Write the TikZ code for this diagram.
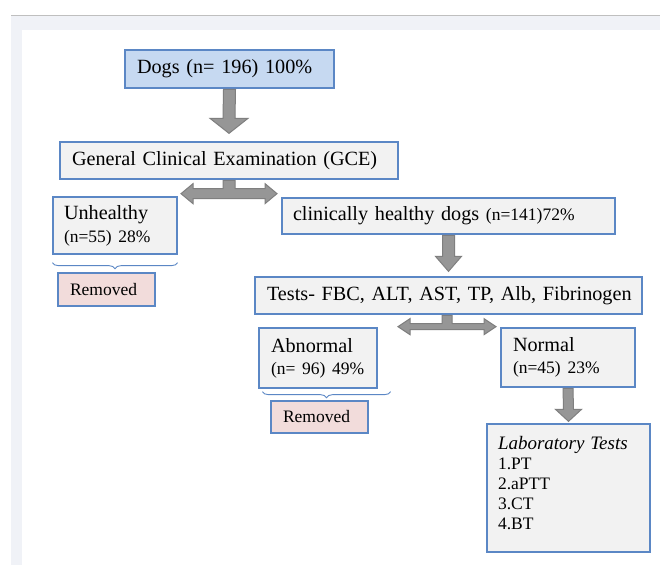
\documentclass[tikz,border=0pt]{standalone}
\usepackage{fontspec}
\setmainfont{Liberation Serif}
\usetikzlibrary{calc,decorations.pathreplacing}
\definecolor{bord}{HTML}{5B87C5}
\definecolor{bluefill}{HTML}{C6D9F1}
\definecolor{greyfill}{HTML}{F2F2F2}
\definecolor{pinkfill}{HTML}{F2DCDB}
\definecolor{arrfill}{HTML}{969696}
\definecolor{arrline}{HTML}{7F7F7F}
\definecolor{pagegrey}{HTML}{F0F2F7}
\definecolor{pageline}{HTML}{BFBFBF}
\newcommand\mainf{\fontsize{20.2}{23}\selectfont}
\newcommand\smallf{\fontsize{17.5}{22}\selectfont}
\newcommand\labf{\fontsize{17.5}{20}\selectfont}
% vertical block arrow: #1 top, #2 tip, #3 shaft half, #4 head half, #5 head length
\newcommand\vblock[5]{%
  \filldraw[blockarrow] ($(#1)+(-#3,0)$) -- ($(#2)+(-#3,-#5)$) -- ($(#2)+(-#4,-#5)$) -- (#2)
    -- ($(#2)+(#4,-#5)$) -- ($(#2)+(#3,-#5)$) -- ($(#1)+(#3,0)$) -- cycle;}
% T-shaped double block arrow: #1 stem top, #2 centre, #3 stem half, #4 bar half,
% #5 half length, #6 head half, #7 head length
\newcommand\hblock[7]{%
  \filldraw[blockarrow] ($(#1)+(-#3,0)$) -- ($(#2)+(-#3,-#4)$) -- ($(#2)+(-#5+#7,-#4)$)
    -- ($(#2)+(-#5+#7,-#6)$) -- ($(#2)+(-#5,0)$) -- ($(#2)+(-#5+#7,#6)$) -- ($(#2)+(-#5+#7,#4)$)
    -- ($(#2)+(#5-#7,#4)$) -- ($(#2)+(#5-#7,#6)$) -- ($(#2)+(#5,0)$) -- ($(#2)+(#5-#7,-#6)$)
    -- ($(#2)+(#5-#7,-#4)$) -- ($(#2)+(#3,-#4)$) -- ($(#1)+(#3,0)$) -- cycle;}
\tikzset{
  box/.style={draw=bord, line width=1.3pt, fill=greyfill, rectangle, inner xsep=12pt,
    inner ysep=2pt, align=left, font=\mainf},
  blockarrow/.style={fill=arrfill, draw=arrline, line width=1pt, line join=miter},
  bracecurve/.style={draw=bord, line width=0.9pt, decorate,
    decoration={brace, amplitude=6pt, mirror}}
}
\begin{document}
\begin{tikzpicture}[x=1pt,y=-1pt]
\useasboundingbox (0,0) rectangle (660,565);
\fill[white] (0,0) rectangle (660,565);
\fill[pagegrey] (11,15) rectangle (660,30);
\fill[pagegrey] (11,15) rectangle (22,565);
\draw[pageline, line width=1pt] (11,15) -- (660,15);

\node[box, fill=bluefill, minimum width=209pt, text width=185pt, minimum height=38pt] (dogs) at (229.5,69) {\mbox{Dogs (n= 196) 100\%}};
\node[box, minimum width=338pt, text width=314pt, minimum height=37pt] (gce) at (229,160.5) {\mbox{General Clinical Examination (GCE)}};
\node[box, minimum width=124pt, text width=102pt, minimum height=57pt, inner xsep=11pt] (unh) at (115,225.5) {Unhealthy\\{\smallf (n=55) 28\%}};
\node[box, fill=pinkfill, minimum width=97pt, text width=73pt, minimum height=33pt, font=\smallf] (rem1) at (106.5,289.5) {Removed};
\node[box, minimum width=333pt, text width=311pt, minimum height=36pt, inner xsep=11pt] (healthy) at (448.5,216) {\mbox{clinically healthy dogs {\smallf (n=141)72\%}}};
\node[box, minimum width=387pt, text width=363pt, minimum height=37pt] (tests) at (448.5,295.5) {\mbox{Tests- FBC, ALT, AST, TP, Alb, Fibrinogen}};
\node[box, minimum width=118pt, text width=94pt, minimum height=60pt] (abn) at (318,358) {Abnormal\\[-1pt]{\smallf (n= 96) 49\%}};
\node[box, minimum width=134pt, text width=110pt, minimum height=59pt] (norm) at (568,357.5) {Normal\\[-1pt]{\smallf (n=45) 23\%}};
\node[box, fill=pinkfill, minimum width=97pt, text width=73pt, minimum height=32pt, font=\smallf] (rem2) at (319.5,417) {Removed};
\node[box, minimum width=163pt, text width=141pt, minimum height=128pt, inner xsep=11pt, font=\labf] (lab) at (568.5,488)
  {{\fontsize{19}{20}\selectfont\itshape Laboratory Tests}\\1.PT\\2.aPTT\\3.CT\\4.BT\rule[-10pt]{0pt}{10pt}};

% braces
\coordinate (b1l) at ($(unh.south west)+(0,8)$);
\coordinate (b1r) at ($(unh.south east)+(0,8)$);
\coordinate (b2l) at ($(abn.south west)+(4,3)$);
\coordinate (b2r) at ($(abn.south east)+(13,3)$);
\draw[bracecurve] (b1l) -- (b1r);
\draw[bracecurve] (b2l) -- (b2r);

% block arrows
\coordinate (a1t) at ($(dogs.south)+(0,0.7)$);
\coordinate (a1h) at ($(gce.north)+(0,-8)$);
\vblock{a1t}{a1h}{6}{19}{15}
\coordinate (a2t) at ($(healthy.south)+(0,0.7)$);
\coordinate (a2h) at ($(tests.north)+(0,-5)$);
\vblock{a2t}{a2h}{6}{13}{15}
\coordinate (a3t) at ($(norm.south)+(0,0.7)$);
\coordinate (a3h) at ($(lab.north)+(0,-2)$);
\vblock{a3t}{a3h}{5}{13}{12}
\coordinate (d1t) at ($(gce.south)+(0,0.7)$);
\coordinate (d1c) at ($(gce.south)+(0,14)$);
\hblock{d1t}{d1c}{6}{5}{48}{10}{12}
\coordinate (d2t) at ($(tests.south)+(-1.5,0.7)$);
\coordinate (d2c) at ($(tests.south)+(-1.5,12)$);
\hblock{d2t}{d2c}{5}{3}{49}{8}{12}
\end{tikzpicture}
\end{document}
